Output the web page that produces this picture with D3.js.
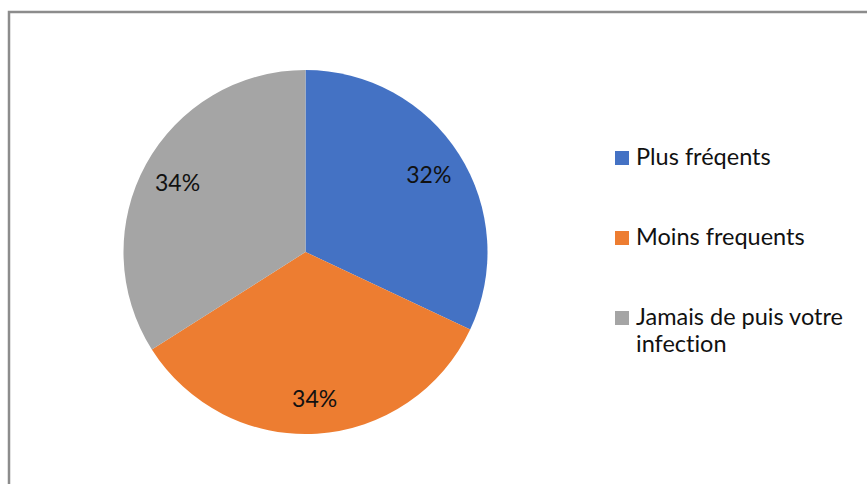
<!DOCTYPE html>
<html>
<head>
<meta charset="utf-8">
<script src="https://cdn.jsdelivr.net/npm/d3@7"></script>
<style>
  html, body { margin: 0; padding: 0; background: #fff; }
  svg { display: block; }
  text { font-variant-ligatures: none; font-feature-settings: "liga" 0; }
</style>
</head>
<body>
<svg id="chart" width="867" height="484"></svg>
<script>
// Share of respondents by frequency category
const categories = ["Plus fréqents", "Moins frequents", "Jamais de puis votre infection"];
const values = [32, 34, 34];
const labels = ["32%", "34%", "34%"];
const colors = ["#4472C4", "#ED7D31", "#A5A5A5"];
const legendLines = [["Plus fréqents"], ["Moins frequents"], ["Jamais de puis votre", "infection"]];

const svg = d3.select("#chart");
const font = "Lato, 'Open Sans', sans-serif";

// Chart area frame (only top and left edges fall inside the view)
svg.append("rect")
  .attr("x", 9).attr("y", 12)
  .attr("width", 900).attr("height", 520)
  .attr("fill", "#fff")
  .attr("stroke", "#8c8c8c")
  .attr("stroke-width", 2.5);

const cx = 305.5, cy = 252, R = 182;
const color = d3.scaleOrdinal().domain(categories).range(colors);

const pie = d3.pie().sort(null).value(d => d.value);
const data = pie(categories.map((c, i) => ({ cat: c, value: values[i], label: labels[i] })));
const arc = d3.arc().innerRadius(0).outerRadius(R);
const labelArc = d3.arc().innerRadius(146).outerRadius(146);

const g = svg.append("g").attr("transform", `translate(${cx},${cy})`);
g.selectAll("path.slice")
  .data(data)
  .join("path")
  .attr("class", "slice")
  .attr("d", arc)
  .attr("fill", d => color(d.data.cat));

g.selectAll("text.lbl")
  .data(data)
  .join("text")
  .attr("class", "lbl")
  .attr("transform", d => `translate(${labelArc.centroid(d)})`)
  .attr("text-anchor", "middle")
  .attr("dominant-baseline", "central")
  .attr("font-family", font)
  .attr("font-size", 23)
  .attr("fill", "#111")
  .text(d => d.data.label);

// Legend
const legendY = d3.scalePoint().domain(categories).range([158, 318]);
const leg = svg.append("g");
const items = leg.selectAll("g.item")
  .data(categories)
  .join("g")
  .attr("class", "item")
  .attr("transform", d => `translate(615,${legendY(d)})`);

items.append("rect")
  .attr("x", 0).attr("y", -7)
  .attr("width", 14).attr("height", 14)
  .attr("fill", d => color(d));

items.each(function(d, i) {
  const t = d3.select(this).append("text")
    .attr("x", 21).attr("y", 7)
    .attr("font-family", font)
    .attr("font-size", 23.5)
    .attr("fill", "#111");
  legendLines[i].forEach((line, j) => {
    t.append("tspan").attr("x", 21).attr("dy", j === 0 ? 0 : 27).text(line);
  });
});
</script>
</body>
</html>
